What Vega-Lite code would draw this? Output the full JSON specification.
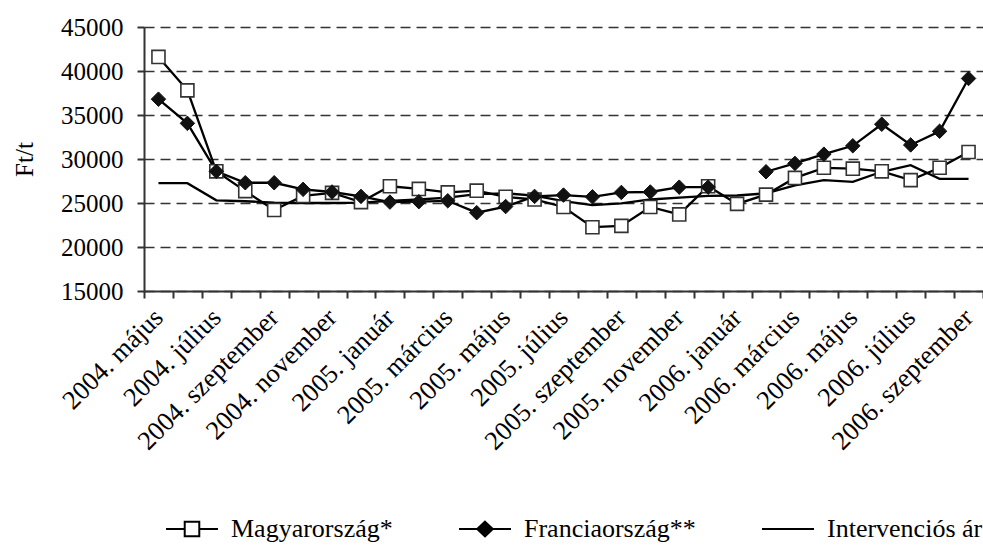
{
  "$schema": "https://vega.github.io/schema/vega-lite/v6.json",
  "autosize": {"type": "none"},
  "width": 839,
  "height": 264,
  "padding": {"left": 144, "top": 27, "right": 0, "bottom": 255},
  "background": "white",
  "config": {
    "view": {"stroke": null},
    "font": "Liberation Serif",
    "axis": {"labelFont": "Liberation Serif", "titleFont": "Liberation Serif", "labelColor": "black", "titleColor": "black"},
    "legend": {"labelFont": "Liberation Serif"}
  },
  "data": {
    "values": [
      {"month": "2004. május", "series": "Magyarország*", "value": 41600},
      {"month": "2004. június", "series": "Magyarország*", "value": 37800},
      {"month": "2004. július", "series": "Magyarország*", "value": 28600},
      {"month": "2004. augusztus", "series": "Magyarország*", "value": 26350},
      {"month": "2004. szeptember", "series": "Magyarország*", "value": 24200},
      {"month": "2004. október", "series": "Magyarország*", "value": 25800},
      {"month": "2004. november", "series": "Magyarország*", "value": 26150},
      {"month": "2004. december", "series": "Magyarország*", "value": 25100},
      {"month": "2005. január", "series": "Magyarország*", "value": 26900},
      {"month": "2005. február", "series": "Magyarország*", "value": 26600},
      {"month": "2005. március", "series": "Magyarország*", "value": 26200},
      {"month": "2005. április", "series": "Magyarország*", "value": 26400},
      {"month": "2005. május", "series": "Magyarország*", "value": 25700},
      {"month": "2005. június", "series": "Magyarország*", "value": 25400},
      {"month": "2005. július", "series": "Magyarország*", "value": 24550},
      {"month": "2005. augusztus", "series": "Magyarország*", "value": 22250},
      {"month": "2005. szeptember", "series": "Magyarország*", "value": 22400},
      {"month": "2005. október", "series": "Magyarország*", "value": 24550},
      {"month": "2005. november", "series": "Magyarország*", "value": 23700},
      {"month": "2005. december", "series": "Magyarország*", "value": 26900},
      {"month": "2006. január", "series": "Magyarország*", "value": 24900},
      {"month": "2006. február", "series": "Magyarország*", "value": 25950},
      {"month": "2006. március", "series": "Magyarország*", "value": 27850},
      {"month": "2006. április", "series": "Magyarország*", "value": 29000},
      {"month": "2006. május", "series": "Magyarország*", "value": 28900},
      {"month": "2006. június", "series": "Magyarország*", "value": 28600},
      {"month": "2006. július", "series": "Magyarország*", "value": 27600},
      {"month": "2006. augusztus", "series": "Magyarország*", "value": 29000},
      {"month": "2006. szeptember", "series": "Magyarország*", "value": 30800},

      {"month": "2004. május", "series": "Franciaország**", "value": 36800},
      {"month": "2004. június", "series": "Franciaország**", "value": 34050},
      {"month": "2004. július", "series": "Franciaország**", "value": 28600},
      {"month": "2004. augusztus", "series": "Franciaország**", "value": 27300},
      {"month": "2004. szeptember", "series": "Franciaország**", "value": 27300},
      {"month": "2004. október", "series": "Franciaország**", "value": 26550},
      {"month": "2004. november", "series": "Franciaország**", "value": 26250},
      {"month": "2004. december", "series": "Franciaország**", "value": 25750},
      {"month": "2005. január", "series": "Franciaország**", "value": 25100},
      {"month": "2005. február", "series": "Franciaország**", "value": 25150},
      {"month": "2005. március", "series": "Franciaország**", "value": 25250},
      {"month": "2005. április", "series": "Franciaország**", "value": 23900},
      {"month": "2005. május", "series": "Franciaország**", "value": 24600},
      {"month": "2005. június", "series": "Franciaország**", "value": 25750},
      {"month": "2005. július", "series": "Franciaország**", "value": 25900},
      {"month": "2005. augusztus", "series": "Franciaország**", "value": 25700},
      {"month": "2005. szeptember", "series": "Franciaország**", "value": 26200},
      {"month": "2005. október", "series": "Franciaország**", "value": 26250},
      {"month": "2005. november", "series": "Franciaország**", "value": 26800},
      {"month": "2005. december", "series": "Franciaország**", "value": 26800},
      {"month": "2006. január", "series": "Franciaország**", "value": null},
      {"month": "2006. február", "series": "Franciaország**", "value": 28550},
      {"month": "2006. március", "series": "Franciaország**", "value": 29500},
      {"month": "2006. április", "series": "Franciaország**", "value": 30550},
      {"month": "2006. május", "series": "Franciaország**", "value": 31500},
      {"month": "2006. június", "series": "Franciaország**", "value": 33950},
      {"month": "2006. július", "series": "Franciaország**", "value": 31600},
      {"month": "2006. augusztus", "series": "Franciaország**", "value": 33150},
      {"month": "2006. szeptember", "series": "Franciaország**", "value": 39150},

      {"month": "2004. május", "series": "Intervenciós ár", "value": 27250},
      {"month": "2004. június", "series": "Intervenciós ár", "value": 27250},
      {"month": "2004. július", "series": "Intervenciós ár", "value": 25300},
      {"month": "2004. augusztus", "series": "Intervenciós ár", "value": 25200},
      {"month": "2004. szeptember", "series": "Intervenciós ár", "value": 25050},
      {"month": "2004. október", "series": "Intervenciós ár", "value": 25000},
      {"month": "2004. november", "series": "Intervenciós ár", "value": 25000},
      {"month": "2004. december", "series": "Intervenciós ár", "value": 25050},
      {"month": "2005. január", "series": "Intervenciós ár", "value": 25250},
      {"month": "2005. február", "series": "Intervenciós ár", "value": 25400},
      {"month": "2005. március", "series": "Intervenciós ár", "value": 25600},
      {"month": "2005. április", "series": "Intervenciós ár", "value": 26000},
      {"month": "2005. május", "series": "Intervenciós ár", "value": 26100},
      {"month": "2005. június", "series": "Intervenciós ár", "value": 25850},
      {"month": "2005. július", "series": "Intervenciós ár", "value": 25200},
      {"month": "2005. augusztus", "series": "Intervenciós ár", "value": 24750},
      {"month": "2005. szeptember", "series": "Intervenciós ár", "value": 24950},
      {"month": "2005. október", "series": "Intervenciós ár", "value": 25400},
      {"month": "2005. november", "series": "Intervenciós ár", "value": 25620},
      {"month": "2005. december", "series": "Intervenciós ár", "value": 25800},
      {"month": "2006. január", "series": "Intervenciós ár", "value": 25850},
      {"month": "2006. február", "series": "Intervenciós ár", "value": 26100},
      {"month": "2006. március", "series": "Intervenciós ár", "value": 27000},
      {"month": "2006. április", "series": "Intervenciós ár", "value": 27600},
      {"month": "2006. május", "series": "Intervenciós ár", "value": 27400},
      {"month": "2006. június", "series": "Intervenciós ár", "value": 28550},
      {"month": "2006. július", "series": "Intervenciós ár", "value": 29300},
      {"month": "2006. augusztus", "series": "Intervenciós ár", "value": 27750},
      {"month": "2006. szeptember", "series": "Intervenciós ár", "value": 27750}
    ]
  },
  "encoding": {
    "x": {
      "field": "month",
      "type": "ordinal",
      "sort": null,
      "bandPosition": 0.5,
      "scale": {
        "type": "band",
        "paddingInner": 0,
        "paddingOuter": 0,
        "domain": ["2004. május", "2004. június", "2004. július", "2004. augusztus", "2004. szeptember", "2004. október", "2004. november", "2004. december", "2005. január", "2005. február", "2005. március", "2005. április", "2005. május", "2005. június", "2005. július", "2005. augusztus", "2005. szeptember", "2005. október", "2005. november", "2005. december", "2006. január", "2006. február", "2006. március", "2006. április", "2006. május", "2006. június", "2006. július", "2006. augusztus", "2006. szeptember"]
      },
      "axis": {
        "title": null,
        "grid": false,
        "tickBand": "extent",
        "ticks": true,
        "tickSize": 7,
        "tickWidth": 2,
        "tickColor": "#333333",
        "domainColor": "#333333",
        "domainWidth": 2,
        "labelAngle": -45,
        "labelAlign": "right",
        "labelBaseline": "middle",
        "labelPadding": 15,
        "labelFontSize": 26.5,
        "labelOverlap": false,
        "labelBound": false,
        "labelFlush": false,
        "labelLimit": 400,
        "labelExpr": "test(regexp('június|augusztus|október|december|február|április'), datum.label) ? '' : datum.label"
      }
    },
    "y": {
      "field": "value",
      "type": "quantitative",
      "scale": {"domain": [15000, 45000], "nice": false, "zero": false},
      "axis": {
        "title": "Ft/t",
        "titleFontSize": 25,
        "titleFontWeight": "normal",
        "titlePadding": 23,
        "values": [15000, 20000, 25000, 30000, 35000, 40000, 45000],
        "format": "d",
        "labelFontSize": 25,
        "labelPadding": 14,
        "tickSize": 7,
        "tickWidth": 2,
        "tickColor": "#333333",
        "domainColor": "#333333",
        "domainWidth": 2,
        "grid": true,
        "gridDash": [10, 6],
        "gridColor": "#333333",
        "gridWidth": 1.5
      }
    }
  },
  "layer": [
    {
      "mark": {"type": "line", "color": "black", "strokeWidth": 2.3, "invalid": "break-paths-show-domains"},
      "encoding": {"detail": {"field": "series", "type": "nominal"}}
    },
    {
      "transform": [{"filter": "datum.series === 'Magyarország*'"}],
      "mark": {"type": "point", "shape": "square", "size": 170, "filled": true, "fill": "white", "stroke": "#333333", "strokeWidth": 1.6, "opacity": 1}
    },
    {
      "transform": [{"filter": "datum.series === 'Franciaország**' && datum.value != null"}],
      "mark": {"type": "point", "shape": "diamond", "size": 210, "filled": true, "fill": "#111111", "stroke": "#111111", "strokeWidth": 1, "opacity": 1}
    },
    {
      "transform": [{"filter": "false"}],
      "mark": {"type": "point", "filled": true, "strokeWidth": 2, "opacity": 1},
      "encoding": {
        "shape": {
          "field": "series",
          "type": "nominal",
          "scale": {
            "domain": ["Magyarország*", "Franciaország**", "Intervenciós ár"],
            "range": [
              "M-1,0H-0.28M0.28,0H1M-0.28,-0.28H0.28V0.28H-0.28Z",
              "M-1,0H1M0,-0.28L0.3,0L0,0.28L-0.3,0Z",
              "M-1,0H1"
            ]
          },
          "legend": {
            "title": null,
            "orient": "bottom",
            "direction": "horizontal",
            "offset": 26,
            "padding": 21,
            "labelFont": "Liberation Serif",
            "labelFontSize": 26,
            "labelColor": "black",
            "labelLimit": 400,
            "labelOffset": 12,
            "symbolSize": 2704,
            "symbolStrokeWidth": 2,
            "columnPadding": 62
          }
        },
        "fill": {
          "field": "series",
          "type": "nominal",
          "scale": {
            "domain": ["Magyarország*", "Franciaország**", "Intervenciós ár"],
            "range": ["white", "black", "black"]
          },
          "legend": {
            "title": null,
            "orient": "bottom",
            "direction": "horizontal",
            "offset": 26,
            "padding": 21,
            "labelFont": "Liberation Serif",
            "labelFontSize": 26,
            "labelColor": "black",
            "labelLimit": 400,
            "labelOffset": 12,
            "symbolSize": 2704,
            "symbolStrokeWidth": 2,
            "columnPadding": 62
          }
        },
        "stroke": {
          "field": "series",
          "type": "nominal",
          "scale": {
            "domain": ["Magyarország*", "Franciaország**", "Intervenciós ár"],
            "range": ["black", "black", "black"]
          },
          "legend": {
            "title": null,
            "orient": "bottom",
            "direction": "horizontal",
            "offset": 26,
            "padding": 21,
            "labelFont": "Liberation Serif",
            "labelFontSize": 26,
            "labelColor": "black",
            "labelLimit": 400,
            "labelOffset": 12,
            "symbolSize": 2704,
            "symbolStrokeWidth": 2,
            "columnPadding": 62
          }
        }
      }
    }
  ]
}
